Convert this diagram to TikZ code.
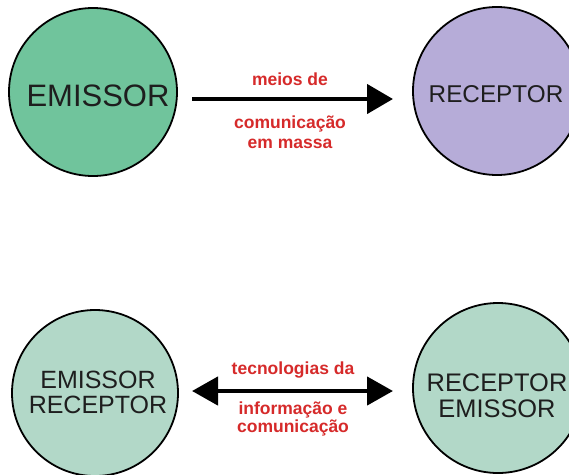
\documentclass[tikz,border=0pt]{standalone}
\usepackage{fontspec}
\setmainfont{Liberation Sans}
\usetikzlibrary{arrows.meta}
\definecolor{greenA}{RGB}{112,196,156}
\definecolor{lavA}{RGB}{182,172,216}
\definecolor{tealA}{RGB}{178,216,200}
\definecolor{redA}{RGB}{214,42,42}
\definecolor{txtA}{RGB}{30,30,30}
\begin{document}
\begin{tikzpicture}[x=1pt,y=-1pt,
  circ/.style={circle,draw=black,line width=1.8pt,inner sep=0pt,minimum size=#1},
  ctext/.style={text=txtA,align=center,inner sep=0pt},
  rtext/.style={text=redA,font=\bfseries\fontsize{17.5}{19}\selectfont,align=center,inner sep=0pt},
  arr/.style={line width=4.5pt,draw=black}
]
\useasboundingbox (0,0) rectangle (569,474);
\fill[white] (0,0) rectangle (569,474);
\begin{scope}
\clip (0,0) rectangle (569,474);
\node[circ=168pt,fill=greenA] (c1) at (93,92) {};
\node[circ=168pt,fill=lavA] (c2) at (497,91) {};
\node[circ=166pt,fill=tealA] (c3) at (95,393) {};
\node[circ=170pt,fill=tealA] (c4) at (498,388) {};
\end{scope}
\node[ctext,font=\fontsize{31}{31}\selectfont] (t1) at (98,96) {EMISSOR};
\node[ctext,font=\fontsize{24.3}{24.3}\selectfont] (t2) at (496,94) {RECEPTOR};
\node[ctext,font=\fontsize{25}{25}\selectfont] (t3) at (98,392) {EMISSOR\\RECEPTOR};
\node[ctext,font=\fontsize{25.4}{26}\selectfont] (t4) at (497,396) {RECEPTOR\\EMISSOR};
% top arrow
\coordinate (a1s) at (192,99);
\coordinate (a1e) at (393,99);
\draw[arr,-{Triangle[length=26pt,width=29pt]}] (a1s) -- (a1e);
\node[rtext] (m1) at (290,79) {meios de};
\node[rtext,font=\bfseries\fontsize{17.5}{20}\selectfont] (m2) at (290,132) {comunicação\\em massa};
% bottom arrow
\coordinate (a2s) at (192,391);
\coordinate (a2e) at (393,391);
\draw[arr,{Triangle[length=26pt,width=28pt]}-{Triangle[length=26pt,width=28pt]}] (a2s) -- (a2e);
\node[rtext] (m3) at (293,370) {tecnologias da};
\node[rtext,font=\bfseries\fontsize{17.5}{18}\selectfont] (m4) at (293,419) {informação e\\comunicação};
\end{tikzpicture}
\end{document}
